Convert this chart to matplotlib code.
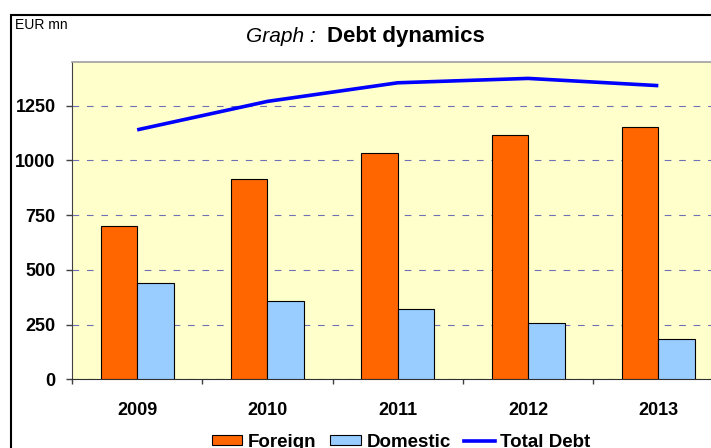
import numpy as np
import matplotlib.pyplot as plt
from matplotlib.patches import Rectangle
from matplotlib.lines import Line2D

plt.rcParams['font.family'] = ['Liberation Sans', 'DejaVu Sans']

# Data (EUR mn)
years = ['2009', '2010', '2011', '2012', '2013']
foreign = [700, 915, 1035, 1117, 1155]
domestic = [440, 357, 320, 256, 186]
total_debt = [1140, 1270, 1355, 1375, 1342]

W, H = 711, 448
fig = plt.figure(figsize=(W / 100, H / 100), dpi=100)
ax = fig.add_axes([72 / W, 1 - 379.3 / H, (723.5 - 72) / W, (379.3 - 62) / H])
ax.set_facecolor('#FFFFCC')

x = np.arange(len(years))
bw = 0.28
ax.bar(x - bw / 2, foreign, bw, color='#FF6600', edgecolor='black', linewidth=0.8, zorder=3)
ax.bar(x + bw / 2, domestic, bw, color='#99CCFF', edgecolor='black', linewidth=0.8, zorder=3)
ax.plot(x, total_debt, color='#0000FF', linewidth=2.6, zorder=4, solid_capstyle='butt')

ax.set_xlim(-0.5, len(years) - 0.5)
ax.set_ylim(0, 1450)
ax.set_yticks([0, 250, 500, 750, 1000, 1250])
ax.set_yticklabels(['0', '250', '500', '750', '1000', '1250'], fontsize=13, fontweight='bold')
ax.yaxis.grid(True, color='#6F6FB5', linestyle=(0, (6, 7)), linewidth=0.8, zorder=1)
ax.set_axisbelow(True)

# category labels at centers, tick marks between categories
ax.set_xticks(np.arange(-0.5, len(years) + 0.5, 1.0))
ax.set_xticklabels([])
ax.set_xticks(x, minor=True)
ax.set_xticklabels(years, minor=True, fontsize=13, fontweight='bold')
ax.tick_params(axis='x', which='major', direction='out', length=3.6, width=1, color='#404040')
ax.tick_params(axis='x', which='minor', length=0, pad=16)
ax.tick_params(axis='y', direction='out', length=4.3, width=1, pad=7.5, color='#404040')

for s in ['top', 'right']:
    ax.spines[s].set_color('#A0A0A0')
    ax.spines[s].set_linewidth(1.2)
ax.spines['left'].set_color('#404040')
ax.spines['bottom'].set_color('#303030')

# outer chart frame
fig.patches.append(Rectangle((11 / W, -0.2), 1.2, 1.2 - 15 / H,
                             transform=fig.transFigure, fill=False,
                             edgecolor='black', linewidth=1.5))

fig.text(316 / W, 1 - 42.3 / H, 'Graph :', fontsize=15, fontstyle='italic',
         ha='right', va='baseline')
fig.text(327 / W, 1 - 42.3 / H, 'Debt dynamics', fontsize=16, fontweight='bold',
         ha='left', va='baseline')
fig.text(15 / W, 1 - 29.3 / H, 'EUR mn', fontsize=10, ha='left', va='baseline')

handles = [Rectangle((0, 0), 1, 1, facecolor='#FF6600', edgecolor='black', linewidth=0.8),
           Rectangle((0, 0), 1, 1, facecolor='#99CCFF', edgecolor='black', linewidth=0.8),
           Line2D([0], [0], color='#0000FF', linewidth=2.6)]
fig.legend(handles, ['Foreign', 'Domestic', 'Total Debt'], loc='center',
           bbox_to_anchor=(401 / W, 1 - 442 / H), ncol=3, frameon=False,
           prop={'weight': 'bold', 'size': 13.5}, handlelength=1.65, handleheight=0.5,
           handletextpad=0.3, columnspacing=0.7, borderpad=0)

fig.savefig('out.png', dpi=100)
